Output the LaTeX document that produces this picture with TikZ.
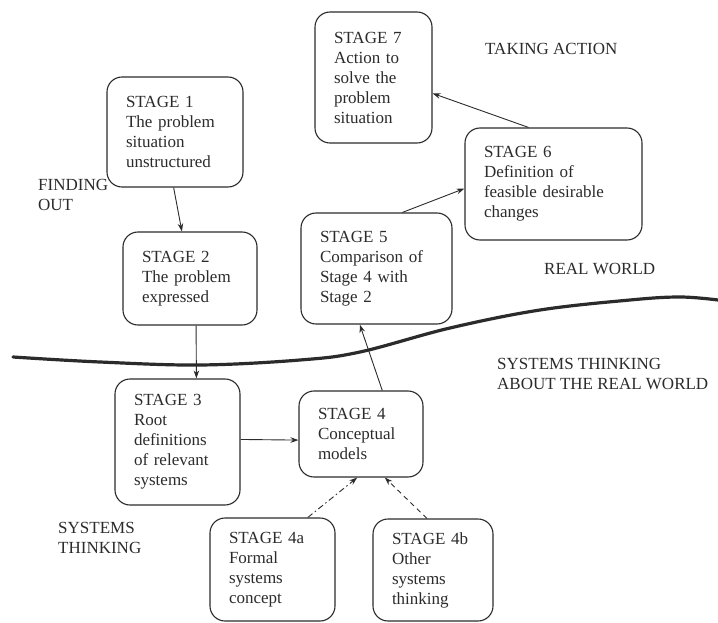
\documentclass[tikz,border=0pt]{standalone}
\usepackage{fontspec}
\setmainfont{Liberation Serif}
\usetikzlibrary{calc,arrows.meta}
\definecolor{ink}{HTML}{2B2B2B}
\begin{document}
\begin{tikzpicture}[x=1pt,y=-1pt,
  stagebox/.style={draw=ink, text=ink, line width=1.1pt, rounded corners=15pt,
    align=left, inner xsep=19pt, inner ysep=0pt,
    font=\fontsize{17}{20}\selectfont},
  lbl/.style={text=ink, align=left, inner sep=0pt, font=\fontsize{17}{20}\selectfont},
  conn/.style={draw=ink, line width=0.9pt, -{Stealth[length=8pt,width=5.5pt]}},
  dashdotline/.style={dash pattern=on 6pt off 3pt on 1.5pt off 3pt},
  dashline/.style={dash pattern=on 5pt off 4pt},
]
\useasboundingbox (0,0) rectangle (718,623);

% boxes
\node[stagebox, text width=98pt,  minimum height=110pt] (s1)  at (175,132)   {STAGE 1\\The problem\\situation\\unstructured};
\node[stagebox, text width=79pt,  minimum height=131pt] (s7)  at (373.5,77.5) {STAGE 7\\Action to\\solve the\\problem\\situation};
\node[stagebox, text width=139pt, minimum height=112pt] (s6)  at (553.5,184) {STAGE 6\\Definition of\\feasible desirable\\changes};
\node[stagebox, text width=96pt,  minimum height=93pt]  (s2)  at (190,278.5) {STAGE 2\\The problem\\expressed};
\node[stagebox, text width=113pt, minimum height=111pt] (s5)  at (376.5,268.5) {STAGE 5\\Comparison of\\Stage 4 with\\Stage 2};
\node[stagebox, text width=87pt,  minimum height=126pt] (s3)  at (177.5,442) {STAGE 3\\Root\\definitions\\of relevant\\systems};
\node[stagebox, text width=86pt,  minimum height=86pt]  (s4)  at (361,434)   {STAGE 4\\Conceptual\\models};
\node[stagebox, text width=87pt,  minimum height=103pt] (s4a) at (272.5,569.5) {STAGE 4a\\Formal\\systems\\concept};
\node[stagebox, text width=82pt,  minimum height=102pt] (s4b) at (433,570)   {STAGE 4b\\Other\\systems\\thinking};

% labels
\node[lbl, anchor=base west] (lta) at (485,55)  {TAKING ACTION};
\node[lbl, anchor=base west] (lfo) at (38,211)  {FINDING\\OUT};
\node[lbl, anchor=base west] (lrw) at (544,274) {REAL WORLD};
\node[lbl, anchor=base west] (lst) at (497,389) {SYSTEMS THINKING\\ABOUT THE REAL WORLD};
\node[lbl, anchor=base west] (lsy) at (58,553)  {SYSTEMS\\THINKING};

% wave
\draw[ink, line width=3.2pt, line cap=round]
  plot[smooth, tension=0.6] coordinates {(13,357) (100,362) (200,365) (300,360) (360,352) (450,328) (540,310) (630,300) (680,297) (718,300)};

% connectors
\draw[conn] ($(s1.south west)!0.49!(s1.south east)$) -- ($(s2.north west)!0.44!(s2.north east)$);
\draw[conn] ($(s2.south west)!0.545!(s2.south east)$) -- ($(s3.north west)!0.65!(s3.north east)$);
\draw[conn] ($(s3.north east)!0.48!(s3.south east)$) -- ($(s4.north west)!0.57!(s4.south west)$);
\draw[conn] ($(s4.north west)!0.67!(s4.north east)$) -- ($(s5.south west)!0.39!(s5.south east)$);
\draw[conn] ($(s5.north west)!0.67!(s5.north east)$) -- ($(s6.north west)!0.54!(s6.south west)$);
\draw[conn] ($(s6.north west)!0.36!(s6.north east)$) -- ($(s7.north east)!0.62!(s7.south east)$);
\draw[conn, dashdotline] ($(s4a.north west)!0.78!(s4a.north east)$) -- ($(s4.south west)!0.47!(s4.south east)$);
\draw[conn, dashline] ($(s4b.north west)!0.45!(s4b.north east)$) -- ($(s4.south west)!0.69!(s4.south east)$);
\end{tikzpicture}
\end{document}
